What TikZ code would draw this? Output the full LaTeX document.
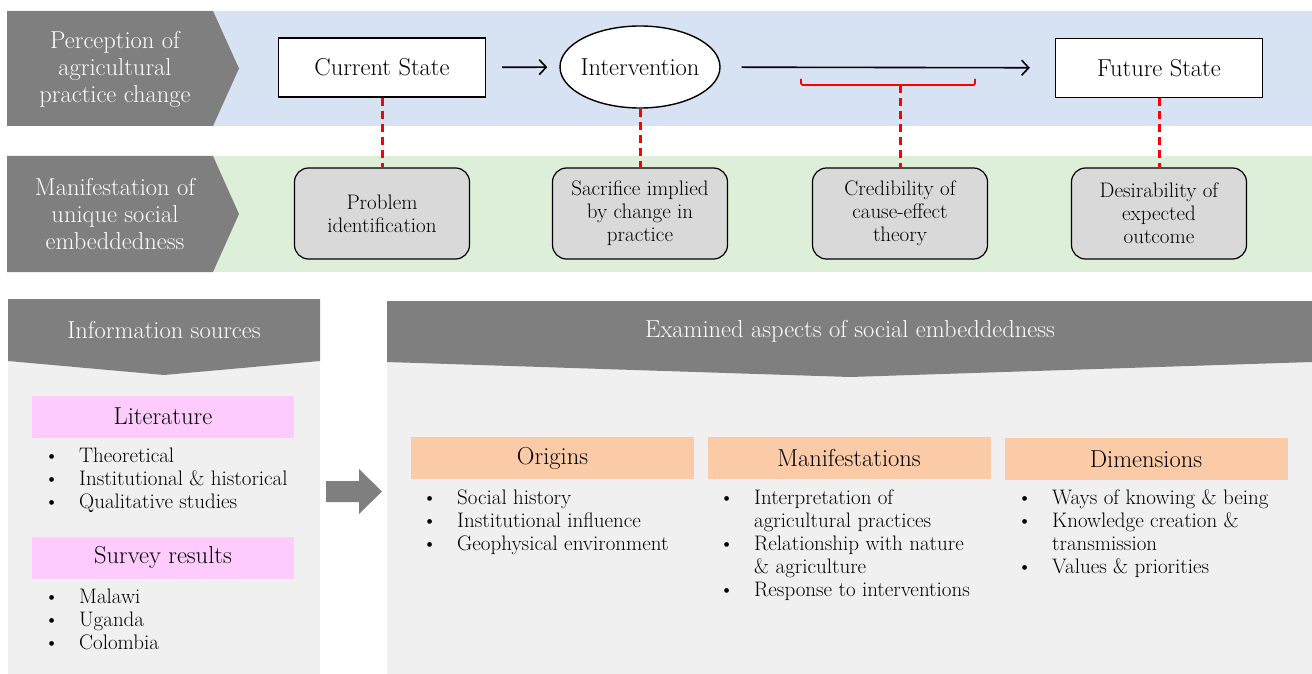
\documentclass[tikz,border=0pt]{standalone}
\usetikzlibrary{arrows.meta,shapes.geometric}

\definecolor{chevgray}{HTML}{7F7F7F}
\definecolor{bandblue}{HTML}{D7E2F2}
\definecolor{bandgreen}{HTML}{DEEFD9}
\definecolor{panelgray}{HTML}{F0F0F0}
\definecolor{factorgray}{HTML}{D9D9D9}
\definecolor{srcpink}{HTML}{FDCCFD}
\definecolor{aspectpeach}{HTML}{FBCAA6}

\newcommand{\lbltxt}{\fontsize{24.5}{27}\selectfont}
\newcommand{\itemtxt}{\fontsize{21}{23}\selectfont}

\tikzset{
  statebox/.style={draw,line width=1.4pt,fill=white,minimum width=207pt,minimum height=59pt,font=\lbltxt},
  factorbox/.style={draw,line width=1.2pt,fill=factorgray,rounded corners=14pt,minimum width=175pt,minimum height=91pt,align=center,font=\itemtxt},
  srcbox/.style={fill=srcpink,minimum width=262pt,minimum height=42pt,font=\lbltxt},
  aspectbox/.style={fill=aspectpeach,minimum width=283pt,minimum height=42pt,font=\lbltxt},
  sidelbl/.style={text=white,align=center,font=\lbltxt},
  flow/.style={line width=1.6pt,-{Straight Barb[length=7pt,width=15pt]}},
  tie/.style={red,line width=3pt,dash pattern=on 8pt off 5pt},
  bullets/.style={anchor=base west,inner sep=0pt,font=\itemtxt}
}

\begin{document}
\begin{tikzpicture}[x=1pt,y=-1pt]
  \useasboundingbox (0,0) rectangle (1312,674);

  % bands
  \fill[bandblue] (213,11) rectangle (1312,126);
  \fill[bandgreen] (213,156) rectangle (1312,272);
  \fill[chevgray] (7,11) -- (213,11) -- (239,68.5) -- (213,126) -- (7,126) -- cycle;
  \fill[chevgray] (7,156) -- (213,156) -- (239,214) -- (213,272) -- (7,272) -- cycle;

  \node[sidelbl] (perc) at (115,69) {Perception of\\agricultural\\practice change};
  \node[sidelbl] (manif) at (115,214) {Manifestation of\\unique social\\embeddedness};

  \node[statebox] (cur) at (382,67.5) {Current State};
  \node[draw,ellipse,line width=1.4pt,fill=white,minimum width=160pt,minimum height=82pt,inner ysep=0pt,inner xsep=-3pt,font=\lbltxt] (int) at (640,67) {Intervention};
  \node[statebox] (fut) at (1159,68) {Future State};

  \draw[flow,shorten <=16pt,shorten >=12pt] (cur) -- (int);
  \draw[flow,shorten <=21pt,shorten >=25pt] (int) -- (fut);

  \node[factorbox] (prob) at (382,213.5) {Problem\\identification};
  \node[factorbox] (sac) at (640,213.5) {Sacrifice implied\\by change in\\practice};
  \node[factorbox] (cred) at (900,213.5) {Credibility of\\cause-effect\\theory};
  \node[factorbox] (des) at (1159,213.5) {Desirability of\\expected\\outcome};

  \draw[tie] (cur) -- (prob);
  \draw[tie] (int) -- (sac);
  \draw[tie] (fut) -- (des);

  % bracket under the long arrow
  \coordinate (brl) at (801,79);
  \coordinate (brr) at (975,79);
  \coordinate (brk) at (900,85);
  \draw[red,line width=1.8pt,rounded corners=2pt] (brl) -- (801,85) -- (975,85) -- (brr);
  \draw[tie] (brk) -- (cred);

  % information sources
  \fill[panelgray] (8,299) rectangle (320,674);
  \fill[chevgray] (8,299) -- (320,299) -- (320,361) -- (164,375) -- (8,361) -- cycle;
  \node[text=white,font=\lbltxt] (infohd) at (164,330) {Information sources};

  \node[srcbox] (lit) at (163,416.5) {Literature};
  \node[bullets] (litlist) at (44,462) {\begin{tabular}[t]{@{}p{35pt}@{}p{230pt}@{}}
    \textbullet & Theoretical\\
    \textbullet & Institutional \& historical\\
    \textbullet & Qualitative studies
  \end{tabular}};
  \node[srcbox] (surv) at (163,557.5) {Survey results};
  \node[bullets] (survlist) at (44,603) {\begin{tabular}[t]{@{}p{35pt}@{}p{230pt}@{}}
    \textbullet & Malawi\\
    \textbullet & Uganda\\
    \textbullet & Colombia
  \end{tabular}};

  \fill[chevgray] (326,481) -- (359,481) -- (359,469) -- (382,491.5) -- (359,514) -- (359,502) -- (326,502) -- cycle;

  % examined aspects
  \fill[panelgray] (387,301) rectangle (1312,674);
  \fill[chevgray] (387,301) -- (1312,301) -- (1312,362) -- (850,377) -- (387,362) -- cycle;
  \node[text=white,font=\lbltxt] (aspecthd) at (850,331) {Examined aspects of social embeddedness};

  \node[aspectbox] (orig) at (552.5,458) {Origins};
  \node[aspectbox] (mani) at (849,458) {Manifestations};
  \node[aspectbox] (dims) at (1146,459) {Dimensions};

  \node[bullets] (origlist) at (422,504) {\begin{tabular}[t]{@{}p{35pt}@{}p{230pt}@{}}
    \textbullet & Social history\\
    \textbullet & Institutional influence\\
    \textbullet & Geophysical environment
  \end{tabular}};
  \node[bullets] (manilist) at (719,504) {\begin{tabular}[t]{@{}p{35pt}@{}p{250pt}@{}}
    \textbullet & Interpretation of\newline agricultural practices\\
    \textbullet & Relationship with nature\newline \& agriculture\\
    \textbullet & Response to interventions
  \end{tabular}};
  \node[bullets] (dimslist) at (1017,504) {\begin{tabular}[t]{@{}p{35pt}@{}p{250pt}@{}}
    \textbullet & Ways of knowing \& being\\
    \textbullet & Knowledge creation \&\newline transmission\\
    \textbullet & Values \& priorities
  \end{tabular}};
\end{tikzpicture}
\end{document}
